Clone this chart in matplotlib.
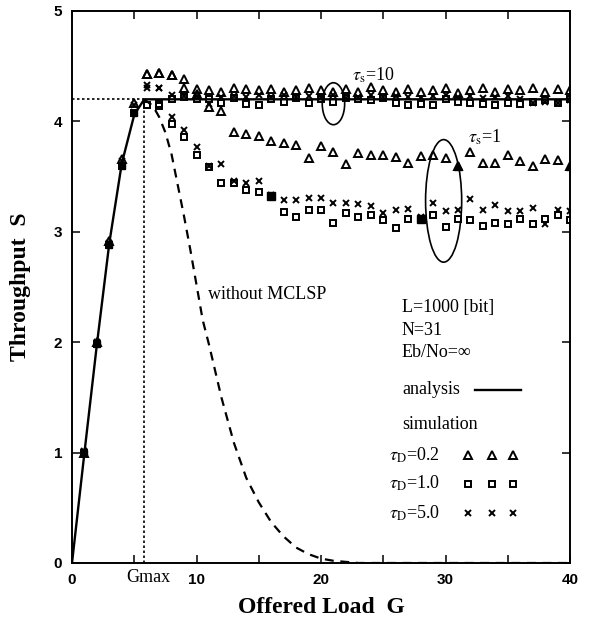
import matplotlib.pyplot as plt
from matplotlib.patches import Ellipse

plt.rcParams['font.family'] = ['Liberation Serif', 'DejaVu Serif']
plt.rcParams['mathtext.fontset'] = 'stix'

# analysis curve
g_ana = [0, 1, 2, 3, 4, 5, 5.8, 40]
s_ana = [0, 1.0, 1.98, 2.9, 3.62, 4.06, 4.2, 4.2]

g_max = 5.8
s_max = 4.2

# analysis without MCLSP
g_wo = [5.8, 6.5, 7, 7.5, 8, 8.5, 9, 9.5, 10, 10.5, 11, 12, 13, 14, 15, 16,
        17, 18, 19, 20, 21, 22, 23, 40]
s_wo = [4.2, 4.14, 4.04, 3.9, 3.7, 3.42, 3.14, 2.84, 2.52, 2.2, 1.98, 1.5,
        1.09, 0.77, 0.55, 0.37, 0.24, 0.14, 0.08, 0.04, 0.02, 0.01, 0, 0]

# simulation, rising part (all tau)
g_low = [1, 2, 3, 4, 5]
tri_low = [1.0, 2.0, 2.92, 3.66, 4.17]
sq_low = [1.0, 1.98, 2.88, 3.6, 4.08]
x_low = [1.01, 2.0, 2.9, 3.64, 4.15]

# simulation, G = 6 .. 40
g_sim = list(range(6, 41))
tri10 = [4.43, 4.44, 4.42, 4.38, 4.29, 4.28, 4.27, 4.3, 4.29, 4.28, 4.29,
         4.27, 4.28, 4.3, 4.28, 4.27, 4.29, 4.27, 4.31, 4.28, 4.27, 4.29,
         4.27, 4.28, 4.3, 4.26, 4.28, 4.3, 4.27, 4.29, 4.28, 4.3, 4.27,
         4.29, 4.28]
sq10 = [4.15, 4.16, 4.2, 4.22, 4.2, 4.2, 4.17, 4.21, 4.16, 4.15, 4.2, 4.18,
        4.21, 4.17, 4.2, 4.18, 4.21, 4.2, 4.19, 4.21, 4.17, 4.15, 4.16, 4.15,
        4.2, 4.18, 4.17, 4.16, 4.15, 4.17, 4.16, 4.18, 4.19, 4.17, 4.2]
x10 = [4.33, 4.3, 4.24, 4.23, 4.23, 4.16, 4.22, 4.23, 4.22, 4.24, 4.22,
       4.24, 4.22, 4.23, 4.22, 4.24, 4.21, 4.22, 4.24, 4.22, 4.23, 4.22,
       4.21, 4.23, 4.24, 4.22, 4.23, 4.21, 4.22, 4.23, 4.2, 4.17, 4.18,
       4.17, 4.19]
tri1 = [4.43, 4.44, 4.42, 4.3, 4.25, 4.13, 4.09, 3.9, 3.89, 3.87, 3.82,
        3.8, 3.79, 3.67, 3.78, 3.72, 3.61, 3.71, 3.7, 3.7, 3.68, 3.62, 3.69,
        3.7, 3.67, 3.6, 3.72, 3.62, 3.62, 3.7, 3.64, 3.6, 3.66, 3.65, 3.6]
sq1 = [4.15, 4.14, 3.98, 3.86, 3.7, 3.59, 3.44, 3.44, 3.38, 3.36, 3.32,
       3.18, 3.13, 3.2, 3.2, 3.08, 3.17, 3.13, 3.15, 3.11, 3.03, 3.12, 3.12,
       3.15, 3.04, 3.12, 3.11, 3.05, 3.08, 3.07, 3.12, 3.07, 3.12, 3.15,
       3.11]
x1 = [4.3, 4.3, 4.04, 3.92, 3.77, 3.6, 3.61, 3.46, 3.44, 3.46, 3.33, 3.29,
      3.29, 3.31, 3.31, 3.26, 3.26, 3.25, 3.23, 3.17, 3.2, 3.21, 3.13, 3.26,
      3.19, 3.2, 3.3, 3.2, 3.24, 3.19, 3.19, 3.22, 3.07, 3.2, 3.19]
filled_tri1 = [31, 40]
filled_sq1 = [16, 28]

legend_labels = [r'$\tau_{\rm D}$=0.2', r'$\tau_{\rm D}$=1.0', r'$\tau_{\rm D}$=5.0']
legend_markers = ['^', 's', 'x']

fig = plt.figure(figsize=(6, 6.21), dpi=100)
ax = fig.add_axes([0.12, 0.0934, 0.83, 0.8889])

# analysis lines
ax.plot(g_ana, s_ana, color='k', lw=1.7, zorder=2)
ax.plot(g_wo, s_wo, color='k', lw=1.6, dashes=(4, 3), zorder=2)
ax.plot([0, g_max], [s_max, s_max], color='k', lw=1.2, ls=(0, (1.5, 1.5)))
ax.plot([g_max, g_max], [0, s_max], color='k', lw=1.2, ls=(0, (1.5, 1.5)))

mk = dict(ls='none', mfc='none', mec='k', mew=1.4, zorder=3)
ax.plot(g_low, tri_low, marker='^', ms=5.5, **mk)
ax.plot(g_low, sq_low, marker='s', ms=5, **mk)
ax.plot(g_low, x_low, marker='x', ms=5, **mk)
for s_vals, m in [(tri10, '^'), (tri1, '^'), (sq10, 's'), (sq1, 's'),
                  (x10, 'x'), (x1, 'x')]:
    ax.plot(g_sim, s_vals, marker=m, ms=5.5 if m == '^' else 5, **mk)

# filled-looking markers
ax.plot(filled_tri1, [tri1[g_sim.index(g)] for g in filled_tri1], ls='none',
        marker='^', ms=6, color='k', zorder=4)
ax.plot(filled_sq1, [sq1[g_sim.index(g)] for g in filled_sq1], ls='none',
        marker='s', ms=5.5, color='k', zorder=4)
ax.plot(g_low, sq_low, ls='none', marker='s', ms=5, color='k', zorder=4)

# tau_s annotations
ax.add_patch(Ellipse((21.0, 4.16), 1.8, 0.38, fill=False, ec='k', lw=1.2))
ax.text(22.5, 4.42, r'$\tau_{\rm s}$=10', fontsize=13, va='center')
ax.add_patch(Ellipse((29.85, 3.28), 2.9, 1.11, fill=False, ec='k', lw=1.2))
ax.text(31.8, 3.86, r'$\tau_{\rm s}$=1', fontsize=13, va='center')

ax.text(10.9, 2.43, 'without MCLSP', fontsize=13, va='center')

# parameter / legend block
ax.text(26.5, 2.31, 'L=1000 [bit]', fontsize=13, va='center')
ax.text(26.5, 2.11, 'N=31', fontsize=13, va='center')
ax.text(26.5, 1.91, 'Eb/No=∞', fontsize=13, va='center')
ax.text(26.5, 1.57, 'analysis', fontsize=13, va='center')
ax.plot([32.4, 36.1], [1.57, 1.57], color='k', lw=1.7)
ax.text(26.5, 1.25, 'simulation', fontsize=13, va='center')
leg_y = [0.98, 0.72, 0.45]
leg_g = [31.8, 33.7, 35.4]
for lab, m, y in zip(legend_labels, legend_markers, leg_y):
    ax.text(25.5, y, lab, fontsize=13, va='center')
    ax.plot(leg_g, [y] * 3, marker=m, ms=5.5 if m == '^' else 5, **mk)

ax.set_xlim(0, 40)
ax.set_ylim(0, 5)
ax.set_xticks(range(0, 41, 5))
ax.set_xticklabels(['0', '', '10', '', '20', '', '30', '', '40'],
                   fontfamily='Liberation Sans', fontweight='bold')
ax.set_yticks(range(0, 6))
ax.set_yticklabels([str(v) for v in range(0, 6)],
                   fontfamily='Liberation Sans', fontweight='bold')
ax.tick_params(direction='in', length=6, width=1.1, top=True, right=True,
               labelsize=11, pad=7)
for sp in ax.spines.values():
    sp.set_linewidth(1.4)

ax.text(g_max + 0.3, -0.027, 'Gmax', fontsize=13, ha='center', va='center',
        transform=ax.get_xaxis_transform())

ax.set_xlabel('Offered Load  G', fontsize=17, fontweight='bold', va='top')
ax.xaxis.set_label_coords(0.5, -0.062)
ax.set_ylabel('Throughput  S', fontsize=17, fontweight='bold')
ax.yaxis.set_label_coords(-0.082, 0.5)

fig.savefig('out.png', dpi=100)
